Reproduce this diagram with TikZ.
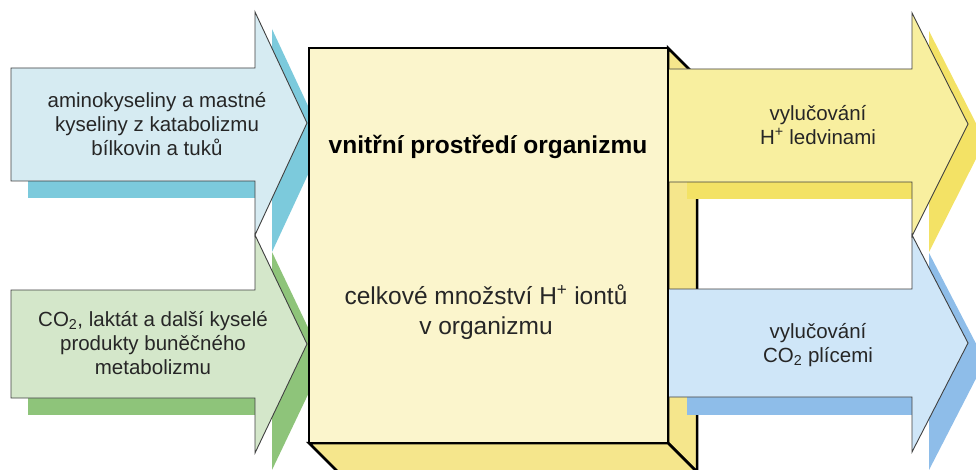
\documentclass[tikz,border=0pt]{standalone}
\usepackage{fontspec}
\setmainfont{Liberation Sans}
\definecolor{tlfill}{HTML}{D6EBF2}
\definecolor{tlshadow}{HTML}{7CCADC}
\definecolor{blfill}{HTML}{D4E7CA}
\definecolor{blshadow}{HTML}{8EC47A}
\definecolor{trfill}{HTML}{F8EF9F}
\definecolor{trshadow}{HTML}{F3E265}
\definecolor{brfill}{HTML}{CFE6F8}
\definecolor{brshadow}{HTML}{8EBDE9}
\definecolor{boxfront}{HTML}{FBF5CC}
\definecolor{boxside}{HTML}{F5E68C}
\definecolor{edgegray}{HTML}{404040}
\tikzset{
  arrowshape/.style={draw=edgegray, line width=0.9pt, line join=miter},
  shadowshape/.style={draw=none},
  boxface/.style={draw=black, line width=2.5pt, line join=miter},
  label/.style={inner sep=0pt, align=center, text=black!85, font=\fontsize{20.5}{24}\selectfont},
  biglabel/.style={inner sep=0pt, align=center, text=black!85, font=\fontsize{24.5}{30}\selectfont},
  titlelabel/.style={inner sep=0pt, align=center, text=black, font=\fontsize{24.5}{30}\selectfont\bfseries}
}
\begin{document}
\begin{tikzpicture}[x=1pt,y=-1pt]
\useasboundingbox (0,0) rectangle (976,470);
\clip (0,0) rectangle (976,470);
\fill[white] (0,0) rectangle (976,470);
% left shadows
\fill[tlshadow] (28,181) -- (272,181) -- (272,198) -- (28,198) -- cycle;
\fill[tlshadow] (272,29) -- (324,140) -- (272,252) -- cycle;
\fill[blshadow] (28,398) -- (272,398) -- (272,415) -- (28,415) -- cycle;
\fill[blshadow] (272,252) -- (324,361) -- (272,470) -- cycle;
% left arrows
\draw[arrowshape, fill=tlfill] (11,68) -- (255,68) -- (255,12) -- (307,123) -- (255,235) -- (255,181) -- (11,181) -- cycle;
\draw[arrowshape, fill=blfill] (11,290) -- (255,290) -- (255,235) -- (307,344) -- (255,453) -- (255,398) -- (11,398) -- cycle;
% box side and bottom faces
\draw[boxface, fill=boxside] (668,48) -- (697,77) -- (697,472) -- (668,443) -- cycle;
\draw[boxface, fill=boxside] (309,443) -- (668,443) -- (697,472) -- (338,472) -- cycle;
% right shadows
\fill[trshadow] (687,182) -- (929,182) -- (929,199) -- (687,199) -- cycle;
\fill[trshadow] (929,31) -- (985,141) -- (929,252) -- cycle;
\fill[brshadow] (687,397) -- (929,397) -- (929,415) -- (687,415) -- cycle;
\fill[brshadow] (929,253) -- (985,361) -- (929,470) -- cycle;
% right arrows
\draw[arrowshape, fill=trfill] (668,69) -- (912,69) -- (912,13) -- (968,124) -- (912,236) -- (912,182) -- (668,182) -- cycle;
\draw[arrowshape, fill=brfill] (668,289) -- (912,289) -- (912,235) -- (968,343) -- (912,452) -- (912,397) -- (668,397) -- cycle;
% box front
\draw[boxface, fill=boxfront] (309,48) rectangle (668,443);
% texts
\node[label] (tl) at (157,124) {aminokyseliny a mastné\\kyseliny z katabolizmu\\bílkovin a tuků};
\node[label] (bl) at (153,343) {CO\textsubscript{2}, laktát a další kyselé\\produkty buněčného\\metabolizmu};
\node[titlelabel] (title) at (488,147) {vnitřní prostředí organizmu};
\node[biglabel] (total) at (486,312) {celkové množství H\textsuperscript{+} iontů\\v organizmu};
\node[label] (tr) at (818,125) {vylučování\\H\textsuperscript{+} ledvinami};
\node[label] (br) at (818,345) {vylučování\\CO\textsubscript{2} plícemi};
\end{tikzpicture}
\end{document}
